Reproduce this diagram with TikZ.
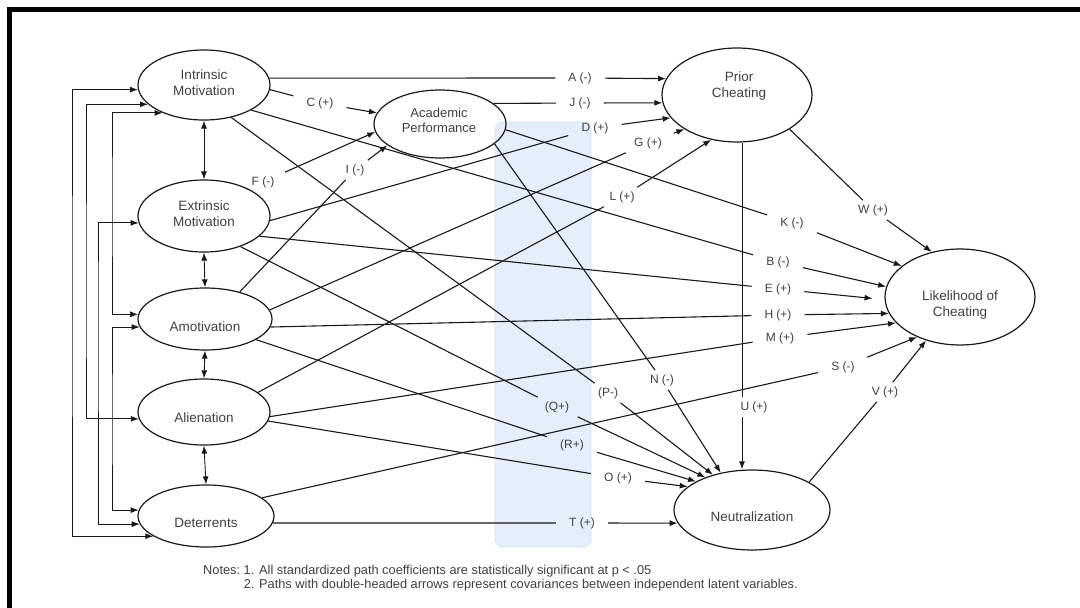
\documentclass[tikz,border=0pt]{standalone}
\usepackage{fontspec}
\setmainfont{Liberation Sans}
\usetikzlibrary{shapes.geometric,arrows.meta}
\definecolor{bandfill}{RGB}{228,239,250}
\definecolor{banddraw}{RGB}{212,228,244}
\begin{document}
\begin{tikzpicture}[x=1pt,y=-1pt,
  >={Latex[length=8pt,width=6pt]},
  latent/.style={draw=black!90, ellipse, line width=1.2pt, inner sep=0pt},
  ltext/.style={font=\fontsize{13.5}{16}\selectfont, text=black!75, align=center, inner sep=0pt},
  coef/.style={font=\fontsize{12}{14}\selectfont, text=black!75, inner xsep=13pt, inner ysep=4pt},
  link/.style={draw=black!90, line width=1.1pt},
  cov/.style={draw=black!90, line width=0.9pt, <->},
]
\useasboundingbox (0,0) rectangle (1080,608);

% frame
\draw[line width=5pt] (9.8,608) -- (9.8,9.8) -- (1080,9.8);

% faint band behind the centre of the model
\fill[bandfill, rounded corners=8pt] (495,122) rectangle (591,547);
\draw[banddraw, line width=0.8pt, rounded corners=8pt] (495,122) rectangle (591,547);

% latent variables
\node[latent, minimum width=132pt, minimum height=70pt] (im) at (204,85) {};
\node[latent, minimum width=132pt, minimum height=72pt] (em) at (204,216) {};
\node[latent, minimum width=134pt, minimum height=62pt] (am) at (205,319) {};
\node[latent, minimum width=132pt, minimum height=66pt] (al) at (204,412) {};
\node[latent, minimum width=136pt, minimum height=62pt] (de) at (206,516) {};
\node[latent, minimum width=132pt, minimum height=68pt] (ap) at (440,124) {};
\node[latent, minimum width=150pt, minimum height=94pt] (pc) at (737,95) {};
\node[latent, minimum width=150pt, minimum height=96pt] (lc) at (960,297) {};
\node[latent, minimum width=156pt, minimum height=80pt] (ne) at (752,510) {};

\node[ltext] (imt) at (204,83) {Intrinsic\\Motivation};
\node[ltext] (emt) at (204,214) {Extrinsic\\Motivation};
\node[ltext] (amt) at (205,327) {Amotivation};
\node[ltext] (alt) at (204,418) {Alienation};
\node[ltext] (det) at (206,523) {Deterrents};
\node[ltext, font=\fontsize{13}{15}\selectfont] (apt) at (439,120) {Academic\\Performance};
\node[ltext] (pct) at (739,86) {Prior\\Cheating};
\node[ltext] (lct) at (960,305) {Likelihood of\\Cheating};
\node[ltext] (net) at (752,517) {Neutralization};

% covariances between neighbouring exogenous variables
\draw[cov] (im.south) -- (em.north);
\draw[cov] (em.south) -- (am.north);
\draw[cov] (am.south) -- (al.north);
\draw[cov] (al.south) -- (de.north);

% covariances routed along the left margin
\coordinate (r1) at (72,300);
\coordinate (r2) at (86,300);
\coordinate (r3) at (98,300);
\coordinate (r4) at (112,200);
\coordinate (r5) at (112,420);
\draw[cov] (im.184) -| (r1) |- (de.201);
\draw[cov] (im.199) -| (r2) |- (al.186);
\draw[cov] (im.214) -| (r4) |- (am.176);
\draw[cov] (em.186) -| (r3) |- (de.187);
\draw[cov] (am.187) -| (r5) |- (de.175);

% path coefficient labels
\node[coef] (lA) at (580,78) {A (-)};
\node[coef] (lJ) at (580,103) {J (-)};
\node[coef] (lC) at (320,103) {C (+)};
\node[coef] (lD) at (595,128) {D (+)};
\node[coef] (lG) at (648,143) {G (+)};
\node[coef] (lF) at (263,182) {F (-)};
\node[coef] (lI) at (355,170) {I (-)};
\node[coef] (lL) at (622,197) {L (+)};
\node[coef] (lK) at (792,223) {K (-)};
\node[coef] (lW) at (873,210) {W (+)};
\node[coef] (lB) at (778,262) {B (-)};
\node[coef] (lE) at (778,289) {E (+)};
\node[coef] (lH) at (778,315) {H (+)};
\node[coef] (lM) at (780,338) {M (+)};
\node[coef] (lS) at (843,367) {S (-)};
\node[coef] (lV) at (885,392) {V (+)};
\node[coef] (lU) at (754,407) {U (+)};
\node[coef] (lN) at (662,380) {N (-)};
\node[coef] (lP) at (608,393) {(P-)};
\node[coef] (lQ) at (557,407) {(Q+)};
\node[coef] (lR) at (572,445) {(R+)};
\node[coef] (lO) at (618,478) {O (+)};
\node[coef] (lT) at (582,523) {T (+)};

% paths to prior cheating
\draw[link] (im.6) -- (lA);   \draw[link,->] (lA) -- (pc.167);
\draw[link] (ap.21) -- (lJ);  \draw[link,->] (lJ) -- (pc.186);
\draw[link] (em.-4) -- (lD);  \draw[link,->] (lD) -- (pc.199);
\draw[link] (am.8) -- (lG);   \draw[link,->] (lG) -- (pc.213);
\draw[link] (al.20) -- (lL);  \draw[link,->] (lL) -- (pc.240);

% paths to academic performance
\draw[link] (im.-4) -- (lC);  \draw[link,->] (lC) -- (ap.170);
\draw[link,->] (lF) -- (ap.187);
\draw[link] (am.38) -- (lI);  \draw[link,->] (lI) -- (ap.202);

% paths to likelihood of cheating
\draw[link] (im.-28) -- (lB); \draw[link,->] (lB) -- (lc.172);
\draw[link] (ap.-5) -- (lK);  \draw[link,->] (lK) -- (lc.152);
\draw[link] (em.-20) -- (lE); \draw[link,->,shorten >=12pt] (lE) -- (lc.182);
\draw[link] (am.-7) -- (lH);  \draw[link,->] (lH) -- (lc.193);
\draw[link] (al.-4) -- (lM);  \draw[link,->] (lM) -- (lc.202);
\draw[link] (de.18) -- (lS);  \draw[link,->] (lS) -- (lc.223);
\draw[link] (pc.-33) -- (lW); \draw[link,->] (lW) -- (lc.122);
\draw[link] (ne.26) -- (lV);  \draw[link,->] (lV) -- (lc.232);

% paths to neutralization
\coordinate (ux) at (742,300);
\draw[link, line width=1pt] (pc.south -| ux) -- (lU.north -| ux);
\draw[link, line width=1pt, ->] (lU.south -| ux) -- (ne.north -| ux);
\draw[link] (im.-50) -- (lP); \draw[link,->] (lP) -- (ne.138);
\draw[link] (em.-40) -- (lQ); \draw[link,->] (lQ) -- (ne.145);
\draw[link] (am.-22) -- (lR); \draw[link,->] (lR) -- (ne.153);
\draw[link] (al.-8) -- (lO);  \draw[link,->] (lO) -- (ne.160);
\draw[link] (ap.-20) -- (lN); \draw[link,->] (lN) -- (ne.130);
\draw[link] (de.-6) -- (lT);  \draw[link,->] (lT) -- (ne.190);

% notes
\node[anchor=north west, inner sep=0pt, text=black!75,
      font=\fontsize{12.8}{13.5}\selectfont] (notes) at (203,565)
  {\begin{tabular}{@{}l@{\ }l@{}}
   Notes: & 1. All standardized path coefficients are statistically significant at p < .05\\
          & 2. Paths with double-headed arrows represent covariances between independent latent variables.
   \end{tabular}};
\end{tikzpicture}
\end{document}
